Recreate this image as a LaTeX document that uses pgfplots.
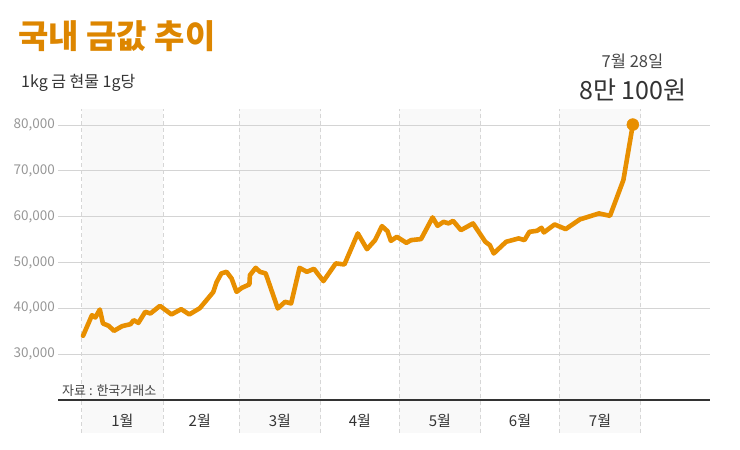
\documentclass[border=0pt]{standalone}
\usepackage{fontspec}
\setmainfont{Noto Sans CJK KR}
\usepackage{pgfplots}
\pgfplotsset{compat=1.18}
\definecolor{gold}{RGB}{232,143,0}
\definecolor{titlec}{RGB}{221,134,0}
\definecolor{gridc}{RGB}{212,212,212}
\definecolor{bandc}{RGB}{249,249,249}
\definecolor{dashc}{RGB}{214,214,214}
\definecolor{tickc}{RGB}{150,150,150}
\definecolor{darkc}{RGB}{51,51,51}
\definecolor{midc}{RGB}{70,70,70}
\tikzset{dashline/.style={dashc, line width=0.8pt, dash pattern=on 4pt off 3pt}}
\begin{document}
\begin{tikzpicture}[x=1pt,y=1pt]
\path (0,0) rectangle (740,450);
\begin{axis}[
  set layers,
  at={(58.3pt,50pt)}, anchor=south west,
  scale only axis, width=651.7pt, height=291pt,
  xmin=-8.92, xmax=239.4, ymin=20000, ymax=83500,
  clip=false,
  axis line style={draw=none},
  major tick length=0pt,
  ytick={30000,40000,50000,60000,70000,80000},
  scaled y ticks=false,
  ymajorgrids,
  grid style={draw=gridc, line width=1pt},
  /pgf/number format/1000 sep={,},
  /pgf/number format/assume math mode=true,
  yticklabel style={font=\fontsize{13.5}{13.5}\selectfont, text=tickc},
  xtick={15.5,45,75.5,106,136.5,167,197.5},
  xticklabels={1월,2월,3월,4월,5월,6월,7월},
  xticklabel style={font=\fontsize{15}{15}\selectfont, text=darkc, anchor=base, yshift=-27pt},
]
\begin{pgfonlayer}{axis background}
  \fill[bandc] (axis cs:0,12800) rectangle (axis cs:31,83500);
  \fill[bandc] (axis cs:60,12800) rectangle (axis cs:91,83500);
  \fill[bandc] (axis cs:121,12800) rectangle (axis cs:152,83500);
  \fill[bandc] (axis cs:182,12800) rectangle (axis cs:213,83500);
  \draw[dashline] (axis cs:0,12800) -- (axis cs:0,83500);
  \draw[dashline] (axis cs:31,12800) -- (axis cs:31,83500);
  \draw[dashline] (axis cs:60,12800) -- (axis cs:60,83500);
  \draw[dashline] (axis cs:91,12800) -- (axis cs:91,83500);
  \draw[dashline] (axis cs:121,12800) -- (axis cs:121,83500);
  \draw[dashline] (axis cs:152,12800) -- (axis cs:152,83500);
  \draw[dashline] (axis cs:182,12800) -- (axis cs:182,83500);
  \draw[dashline] (axis cs:213,12800) -- (axis cs:213,83500);
\end{pgfonlayer}
\draw[darkc, line width=1.6pt] (rel axis cs:0,0) -- (rel axis cs:1,0);
\addplot[gold, line width=4.6pt, line join=round, line cap=round] coordinates {
(0.5,34000) (3.9,38500) (5.2,38000) (6.9,39750) (8.1,36700) (10.3,36180)
(12.3,35090) (15.4,36110) (18.6,36550) (19.8,37420) (21.6,36830) (24.2,39230)
(26.2,38880) (29.8,40540) (34.2,38670) (37.9,39820) (41.0,38670) (45.0,40040)
(50.1,43530) (51.4,45720) (53.2,47620) (55.2,47970) (57.1,46530) (59.0,43600)
(61.0,44470) (63.9,45220) (64.1,47250) (66.3,48840) (67.9,47970) (70.1,47620)
(74.7,39980) (77.5,41420) (79.8,41070) (83.0,48840) (85.8,47970) (88.5,48620)
(92.1,45940) (96.8,49800) (100.1,49580) (105.2,56350) (108.7,52920) (111.8,54890)
(114.4,57940) (116.5,56850) (117.8,54730) (120.1,55610) (123.7,54300) (125.5,54890)
(129.3,55110) (133.7,59840) (135.6,58010) (137.9,58880) (139.8,58530) (141.5,59100)
(144.5,57070) (149.1,58530) (153.8,54520) (155.5,53790) (157.0,51980) (161.7,54520)
(166.5,55260) (168.7,54890) (170.6,56700) (173.5,56920) (175.2,57570) (176.1,56570)
(180.2,58310) (184.4,57290) (189.8,59400) (197.1,60710) (201.3,60190) (206.4,68000)
(210.0,80100)
};
\addplot[only marks, mark=*, mark size=6pt, gold] coordinates {(210.0,80100)};
\end{axis}
\node[anchor=west, inner sep=0pt, text=titlec, font=\fontsize{33}{33}\selectfont\bfseries] at (18,413.5) {국내 금값 추이};
\node[anchor=base west, inner sep=0pt, text=darkc, font=\fontsize{16}{16}\selectfont] at (21,362) {1kg 금 현물 1g당};
\node[anchor=base, inner sep=0pt, text=midc, font=\fontsize{16.5}{16.5}\selectfont] at (632.5,382.3) {7월 28일};
\node[anchor=base, inner sep=0pt, text=darkc, font=\fontsize{25}{25}\selectfont] at (633,350) {8만 100원};
\node[anchor=base west, inner sep=0pt, text=midc, font=\fontsize{13}{13}\selectfont] at (62,54.5) {자료 : 한국거래소};
\end{tikzpicture}
\end{document}
